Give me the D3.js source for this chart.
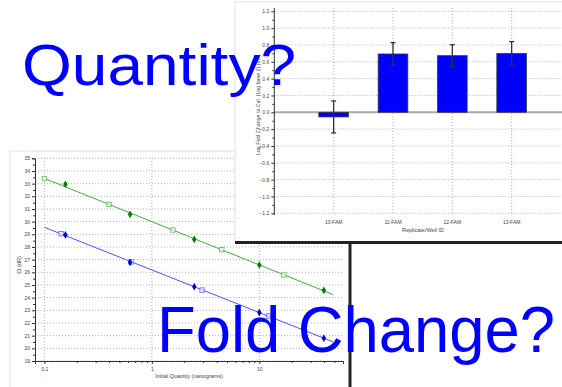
<!DOCTYPE html>
<html>
<head>
<meta charset="utf-8">
<script src="https://cdn.jsdelivr.net/npm/d3@7"></script>
<style>
  html, body { margin: 0; padding: 0; background: #fff; }
  svg { display: block; font-family: "Liberation Sans", Arial, sans-serif; }
</style>
</head>
<body>
<svg id="chart" width="562" height="387"></svg>
<script>
// ---- Standard curve (Ct vs initial quantity) ----
const greenStdQty  = [0.1, 0.4, 1.57, 4.47, 16.9];
const greenStdCt   = [33.4, 31.37, 29.34, 27.79, 25.79];
const greenUnkQty  = [0.157, 0.627, 2.48, 10, 39.8];
const greenUnkCt   = [32.95, 30.58, 28.6, 26.58, 24.58];
const blueStdQty   = [0.143, 0.64, 2.93, 12.2];
const blueStdCt    = [29.05, 26.82, 24.6, 22.55];
const blueUnkQty   = [0.157, 0.627, 2.48, 10, 39.8];
const blueUnkCt    = [28.95, 26.79, 24.87, 22.82, 20.8];
const fitRange     = [0.1, 48.5];
const ctTicks      = d3.range(19, 36);
const qtyTicks     = [0.1, 1, 10];

// ---- Fold change bar chart ----
const wells        = ["10-FAM", "11-FAM", "12-FAM", "13-FAM"];
const foldValues   = [-0.055, 0.693, 0.673, 0.70];
const foldErrors   = [0.19, 0.135, 0.13, 0.14];
const foldTicks    = [1.2, 1.0, 0.8, 0.6, 0.4, 0.2, 0.0, -0.2, -0.4, -0.6, -0.8, -1.0, -1.2];

const svg = d3.select("#chart");
const gridColor = "#9a9a9a";
const axisColor = "#333";
const tickFont = 5;

// ================= Standard curve panel =================
const sc = svg.append("g");
sc.append("rect").attr("x", 10).attr("y", 151).attr("width", 340).attr("height", 240)
  .attr("fill", "#fff").attr("stroke", "#e2e2e2");

const qx = d3.scaleLog().domain([0.0818, 60]).range([35, 343]);
const cy = d3.scaleLinear().domain([19, 35]).range([361, 158.3]);

// grid
sc.append("g").selectAll("line").data(ctTicks).join("line")
  .attr("x1", 35).attr("x2", 343).attr("y1", d => cy(d)).attr("y2", d => cy(d))
  .attr("stroke", gridColor).attr("stroke-width", 0.8).attr("stroke-dasharray", "1,2");
sc.append("g").selectAll("line").data(qtyTicks).join("line")
  .attr("x1", d => qx(d)).attr("x2", d => qx(d)).attr("y1", 158).attr("y2", 361)
  .attr("stroke", gridColor).attr("stroke-width", 0.8).attr("stroke-dasharray", "1,2");

// y axis
sc.append("g").attr("transform", "translate(35,0)")
  .call(d3.axisLeft(cy).tickValues(ctTicks).tickSize(3).tickPadding(2).tickFormat(d3.format("d")));
sc.append("g").attr("transform", "translate(35,0)")
  .call(d3.axisLeft(cy).tickValues(d3.range(19.5, 35, 1)).tickSize(2).tickFormat(""))
  .call(g => g.select(".domain").remove());
// x axis
const minorQ = [];
[0.1, 1, 10].forEach(b => { for (let k = 2; k <= 9; k++) if (b * k <= 60) minorQ.push(b * k); });
sc.append("g").attr("transform", "translate(0,361)")
  .call(d3.axisBottom(qx).tickValues(qtyTicks).tickSize(3).tickPadding(3).tickFormat(d => String(d)));
sc.append("g").attr("transform", "translate(0,361)")
  .call(d3.axisBottom(qx).tickValues(minorQ).tickSize(2).tickFormat(""))
  .call(g => g.select(".domain").remove());
sc.selectAll(".domain, .tick line").attr("stroke", axisColor);
sc.selectAll(".tick text").attr("font-size", tickFont).attr("fill", "#444");

sc.append("text").attr("transform", "translate(21,265) rotate(-90)")
  .attr("text-anchor", "middle").attr("font-size", 5.5).attr("fill", "#444").text("Ct (dR)");
sc.append("text").attr("x", 189).attr("y", 378)
  .attr("text-anchor", "middle").attr("font-size", 5.5).attr("fill", "#444")
  .text("Initial Quantity (nanograms)");

// least-squares fit of Ct on log10(quantity) through the standards
function fit(qs, cts) {
  const xs = qs.map(Math.log10);
  const mx = d3.mean(xs), my = d3.mean(cts);
  const b = d3.sum(xs, (x, i) => (x - mx) * (cts[i] - my)) / d3.sum(xs, x => (x - mx) ** 2);
  return q => my + b * (Math.log10(q) - mx);
}
const series = [
  { sq: greenStdQty, sc: greenStdCt, uq: greenUnkQty, uc: greenUnkCt,
    line: "#46a846", fill: "#007a00", open: "#6cc06c" },
  { sq: blueStdQty, sc: blueStdCt, uq: blueUnkQty, uc: blueUnkCt,
    line: "#5050ff", fill: "#0000d0", open: "#6a6aff" }
];
const line = d3.line().x(d => qx(d[0])).y(d => cy(d[1]));
series.forEach(s => {
  const f = fit(s.sq, s.sc);
  sc.append("path").datum(fitRange.map(q => [q, f(q)]))
    .attr("d", line).attr("fill", "none").attr("stroke", s.line).attr("stroke-width", 1);
  sc.append("g").selectAll("rect").data(s.sq).join("rect")
    .attr("x", d => qx(d) - 2.2).attr("y", (d, i) => cy(s.sc[i]) - 2.2)
    .attr("width", 4.4).attr("height", 4.4)
    .attr("fill", "#fff").attr("fill-opacity", 0.6).attr("stroke", s.open).attr("stroke-width", 0.9);
  sc.append("g").selectAll("path").data(s.uq).join("path")
    .attr("transform", (d, i) => `translate(${qx(d)},${cy(s.uc[i])})`)
    .attr("d", d3.symbol(d3.symbolDiamond, 17))
    .attr("fill", s.fill);
});

// ================= Fold change panel =================
const fc = svg.append("g");
fc.append("rect").attr("x", 235).attr("y", 2).attr("width", 330).attr("height", 240)
  .attr("fill", "#fff").attr("stroke", "#e2e2e2");

const fx = d3.scaleBand().domain(wells).range([274.3, 571]).paddingInner(0).paddingOuter(0.5);
const fy = d3.scaleLinear().domain([-1.2, 1.2]).range([213.3, 11.3]);

fc.append("g").selectAll("line").data(foldTicks).join("line")
  .attr("x1", 274.3).attr("x2", 562).attr("y1", d => fy(d)).attr("y2", d => fy(d))
  .attr("stroke", gridColor).attr("stroke-width", 0.8).attr("stroke-dasharray", "1,2");
fc.append("g").selectAll("line").data(wells).join("line")
  .attr("x1", d => fx(d) + fx.bandwidth() / 2).attr("x2", d => fx(d) + fx.bandwidth() / 2)
  .attr("y1", 8).attr("y2", 215)
  .attr("stroke", gridColor).attr("stroke-width", 0.8).attr("stroke-dasharray", "1,2");

// zero line
fc.append("line").attr("x1", 274.3).attr("x2", 562).attr("y1", fy(0)).attr("y2", fy(0))
  .attr("stroke", "#aaa").attr("stroke-width", 2);

// y axis
const fAx = fc.append("g").attr("transform", "translate(274.3,0)")
  .call(d3.axisLeft(fy).tickValues(foldTicks).tickSize(3).tickPadding(2).tickFormat(d3.format(".1f")));
fAx.select(".domain").attr("d", "M0,8V215");
fc.append("g").attr("transform", "translate(274.3,0)")
  .call(d3.axisLeft(fy).tickValues(d3.range(-11, 12, 2).map(v => v / 10)).tickSize(2).tickFormat(""))
  .call(g => g.select(".domain").remove());
fc.selectAll(".domain, .tick line").attr("stroke", axisColor);
fc.selectAll(".tick text").attr("font-size", tickFont).attr("fill", "#444");

// category labels
fc.append("g").selectAll("text").data(wells).join("text")
  .attr("x", d => fx(d) + fx.bandwidth() / 2).attr("y", 223.5)
  .attr("text-anchor", "middle").attr("font-size", tickFont).attr("fill", "#444").text(d => d);
fc.append("text").attr("x", 423).attr("y", 232)
  .attr("text-anchor", "middle").attr("font-size", 5.5).attr("fill", "#444").text("Replicate/Well ID");
fc.append("text").attr("transform", "translate(260,105) rotate(-90)")
  .attr("text-anchor", "middle").attr("font-size", 5.5).attr("fill", "#444")
  .attr("textLength", 100).attr("lengthAdjust", "spacingAndGlyphs")
  .text("Log Fold Change to Cal. (Log base 2) (dR)");

// bars
const bw = fx.bandwidth() * 0.5;
fc.append("g").selectAll("rect").data(wells).join("rect")
  .attr("x", d => fx(d) + fx.bandwidth() / 2 - bw / 2)
  .attr("y", (d, i) => fy(Math.max(0, foldValues[i])))
  .attr("width", bw)
  .attr("height", (d, i) => Math.abs(fy(foldValues[i]) - fy(0)))
  .attr("fill", "#0000ff").attr("stroke", "#3a3a3a").attr("stroke-width", 0.8);

// error bars
const eb = fc.append("g").attr("stroke", "#333").attr("stroke-width", 1.3);
wells.forEach((w, i) => {
  const cx = fx(w) + fx.bandwidth() / 2;
  const hi = fy(foldValues[i] + foldErrors[i]), lo = fy(foldValues[i] - foldErrors[i]);
  eb.append("line").attr("x1", cx).attr("x2", cx).attr("y1", hi).attr("y2", lo);
  eb.append("line").attr("x1", cx - 2.5).attr("x2", cx + 2.5).attr("y1", hi).attr("y2", hi);
  eb.append("line").attr("x1", cx - 2.5).attr("x2", cx + 2.5).attr("y1", lo).attr("y2", lo);
});

// dark frame edges between the panels
svg.append("line").attr("x1", 235).attr("x2", 562).attr("y1", 242.5).attr("y2", 242.5)
  .attr("stroke", "#222").attr("stroke-width", 3);
svg.append("line").attr("x1", 350).attr("x2", 350).attr("y1", 241).attr("y2", 387)
  .attr("stroke", "#222").attr("stroke-width", 3);

// ================= Headline questions =================
svg.append("text").attr("x", 22).attr("y", 85)
  .attr("font-size", 58).attr("fill", "#0000ff")
  .attr("textLength", 274).attr("lengthAdjust", "spacingAndGlyphs")
  .text("Quantity?");
svg.append("text").attr("x", 157).attr("y", 352.3)
  .attr("font-size", 64).attr("fill", "#0000ff")
  .attr("textLength", 398).attr("lengthAdjust", "spacingAndGlyphs")
  .text("Fold Change?");
</script>
</body>
</html>
